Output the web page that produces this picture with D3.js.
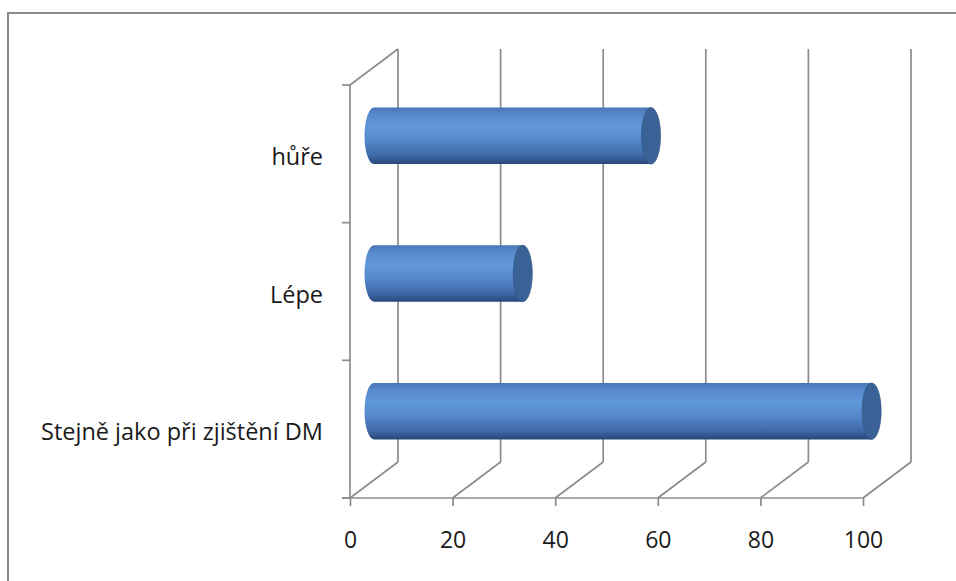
<!DOCTYPE html>
<html>
<head>
<meta charset="utf-8">
<script src="https://cdn.jsdelivr.net/npm/d3@7"></script>
<style>
  html, body { margin: 0; padding: 0; background: #fff; }
  svg { display: block; }
  text { font-family: "Open Sans", "DejaVu Sans", sans-serif; fill: #1a1a1a; }
</style>
</head>
<body>
<svg id="chart" width="956" height="581"></svg>
<script>
// Categories listed from top to bottom, with their values
const categories = ["hůře", "Lépe", "Stejně jako při zjištění DM"];
const values = [54, 29, 97];
const xTicks = [0, 20, 40, 60, 80, 100];

const W = 956, H = 581;
const svg = d3.select("#chart");

// Outer frame
svg.append("rect")
  .attr("x", 8).attr("y", 13)
  .attr("width", W + 20).attr("height", H + 20)
  .attr("fill", "none").attr("stroke", "#8a8a8a").attr("stroke-width", 2);

// Front plot box and 3D depth offset
const plotL = 350, plotR = 863, plotT = 85, plotB = 498;
const depthX = 48, depthY = -36;

const x = d3.scaleLinear().domain([0, 100]).range([plotL, plotR]);
const y = d3.scaleBand().domain(categories).range([plotT, plotB]).paddingInner(0).paddingOuter(0);

const gridColor = "#8c8c8c";
const g = svg.append("g").attr("stroke", gridColor).attr("stroke-width", 1.7).attr("fill", "none");

// Back wall vertical gridlines
xTicks.forEach(v => {
  g.append("line")
    .attr("x1", x(v) + depthX).attr("x2", x(v) + depthX)
    .attr("y1", plotT + depthY).attr("y2", plotB + depthY);
});

// Floor diagonals from each tick to the back wall
xTicks.forEach(v => {
  g.append("line")
    .attr("x1", x(v)).attr("y1", plotB)
    .attr("x2", x(v) + depthX).attr("y2", plotB + depthY);
});

// Left wall: front edge and top diagonal
g.append("line").attr("x1", plotL).attr("x2", plotL).attr("y1", plotT).attr("y2", plotB);
g.append("line").attr("x1", plotL).attr("y1", plotT).attr("x2", plotL + depthX).attr("y2", plotT + depthY);

// Category boundary ticks on the left axis
const bounds = categories.map(c => y(c)).concat([plotB]);
bounds.forEach(b => {
  g.append("line").attr("x1", plotL - 8).attr("x2", plotL).attr("y1", b).attr("y2", b);
});

// Value axis along the front floor edge
const xAxis = d3.axisBottom(x).tickValues(xTicks).tickSize(8).tickSizeOuter(0).tickPadding(26);
const ax = svg.append("g").attr("transform", `translate(0,${plotB})`).call(xAxis);
ax.select(".domain").attr("stroke", gridColor).attr("stroke-width", 1.7)
  .attr("d", `M${plotL - 8},0H${plotR}`);
ax.selectAll(".tick line").attr("stroke", gridColor).attr("stroke-width", 1.7);
ax.selectAll(".tick text").style("font-size", "23px").attr("fill", "#1a1a1a")
  .style("font-family", "'Open Sans', sans-serif");

// Category axis labels
const yAxis = d3.axisLeft(y).tickSize(0).tickPadding(27);
const ay = svg.append("g").attr("transform", `translate(${plotL},0)`).call(yAxis);
ay.select(".domain").remove();
ay.selectAll(".tick text").style("font-size", "23.5px").attr("dy", "0.47em").attr("fill", "#1a1a1a")
  .style("font-family", "'Open Sans', sans-serif");

// Cylinder shading
const defs = svg.append("defs");
const grad = defs.append("linearGradient").attr("id", "cyl").attr("x1", 0).attr("x2", 0).attr("y1", 0).attr("y2", 1);
[[0, "#4876b6"], [0.12, "#5689cc"], [0.35, "#6198dc"], [0.6, "#5386cb"], [0.85, "#3e69a6"], [1, "#27477a"]]
  .forEach(([o, c]) => grad.append("stop").attr("offset", o).attr("stop-color", c));

const barH = y.step() * 0.41;
const rx = 9.5, ry = barH / 2;

const bars = svg.append("g");
categories.forEach((c, i) => {
  const cy = y(c) + y.bandwidth() / 2 + depthY / 2;
  const x0 = x(0) + depthX / 2;
  const x1 = x(values[i]) + depthX / 2;
  const t = cy - ry, b = cy + ry;
  bars.append("path")
    .attr("d", `M${x1},${t}L${x0},${t}A${rx},${ry} 0 0 0 ${x0},${b}L${x1},${b}Z`)
    .attr("fill", "url(#cyl)");
  bars.append("ellipse")
    .attr("cx", x1).attr("cy", cy).attr("rx", rx).attr("ry", ry)
    .attr("fill", "#3b6296").attr("stroke", "#35598a").attr("stroke-width", 0.8);
});
</script>
</body>
</html>
